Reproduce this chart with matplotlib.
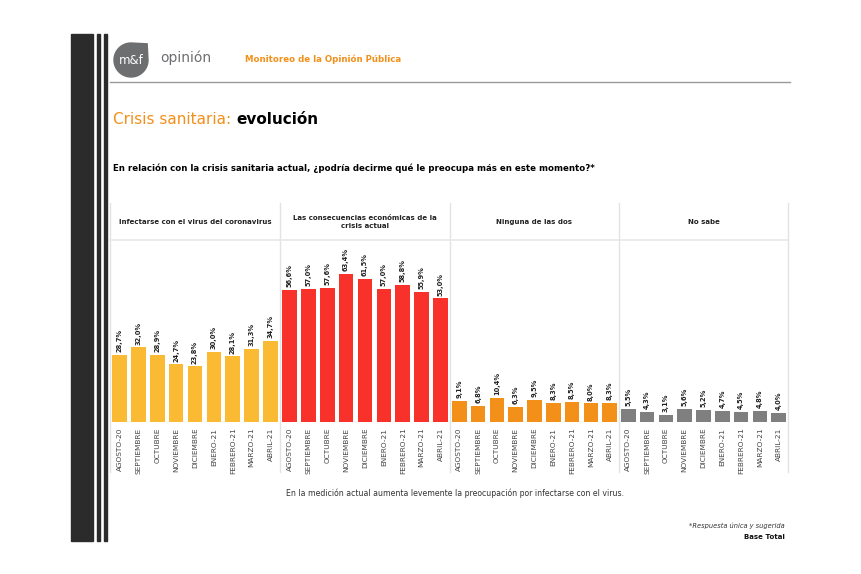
import numpy as np
import matplotlib
matplotlib.use("Agg")
import matplotlib.pyplot as plt
from matplotlib.patches import Rectangle, Polygon

# data
months = ['AGOSTO-20', 'SEPTIEMBRE', 'OCTUBRE', 'NOVIEMBRE', 'DICIEMBRE',
          'ENERO-21', 'FEBRERO-21', 'MARZO-21', 'ABRIL-21']
panel_titles = ['Infectarse con el virus del coronavirus',
                'Las consecuencias económicas de la\ncrisis actual',
                'Ninguna de las dos',
                'No sabe']
infectarse = [28.7, 32.0, 28.9, 24.7, 23.8, 30.0, 28.1, 31.3, 34.7]
economicas = [56.6, 57.0, 57.6, 63.4, 61.5, 57.0, 58.8, 55.9, 53.0]
ninguna = [9.1, 6.8, 10.4, 6.3, 9.5, 8.3, 8.5, 8.0, 8.3]
no_sabe = [5.5, 4.3, 3.1, 5.6, 5.2, 4.7, 4.5, 4.8, 4.0]
series = [infectarse, economicas, ninguna, no_sabe]
colors = ['#FBBA33', '#F8312B', '#F39019', '#7F7F7F']

W, H = 862, 574
fig = plt.figure(figsize=(W / 100, H / 100), dpi=100)
fig.patch.set_facecolor('white')

# background axes in pixel coordinates for the page decoration
bg = fig.add_axes([0, 0, 1, 1], zorder=0)
bg.set_xlim(0, W)
bg.set_ylim(H, 0)
bg.axis('off')

# left black bars
bg.add_patch(Rectangle((71, 34), 22, 507, color='#2b2b2b'))
bg.add_patch(Rectangle((97, 34), 3, 507, color='#2b2b2b'))
bg.add_patch(Rectangle((104, 34), 3, 507, color='#2b2b2b'))

# logo leaf
cx, cy, r = 131, 60, 17
t = np.linspace(np.pi / 2, 2 * np.pi, 60)
pts = [(cx + r * np.cos(a), cy - r * np.sin(a)) for a in t]
pts.append((cx + r * 0.95, cy - r * 0.95))
bg.add_patch(Polygon(pts, closed=True, color='#6d6e70'))
bg.text(cx, cy + 1, 'm&f', color='white', fontsize=8.5, ha='center', va='center')
bg.text(160, 58, 'opinión', color='#6d6e70', fontsize=10, ha='left', va='center')
bg.text(245, 59, 'Monitoreo de la Opinión Pública', color='#F39019',
        fontsize=6.2, fontweight='bold', ha='left', va='center')
bg.plot([110, 790], [82, 82], color='#999999', lw=1)

# titles
t1 = bg.text(113, 120, 'Crisis sanitaria: ', color='#F39019', fontsize=11,
             ha='left', va='center')
fig.canvas.draw()
bb = t1.get_window_extent()
bg.text(113 + bb.width, 120, 'evolución', color='black', fontsize=11,
        fontweight='bold', ha='left', va='center')
bg.text(113, 168, 'En relación con la crisis sanitaria actual, ¿podría decirme qué le '
        'preocupa más en este momento?*', color='black', fontsize=6.2,
        fontweight='bold', ha='left', va='center')

# panel frame
edges = [110, 280, 450, 619, 788]
for x in edges:
    bg.plot([x, x], [203, 472], color='#e3e3e3', lw=1)
bg.plot([110, 788], [240, 240], color='#e8e8e8', lw=1.2)
for i, title in enumerate(panel_titles):
    bg.text((edges[i] + edges[i + 1]) / 2, 222, title, fontsize=5.0,
            fontweight='bold', ha='center', va='center', color='#222222',
            linespacing=1.5)

# footer
bg.text(455, 493, 'En la medición actual aumenta levemente la preocupación por '
        'infectarse con el virus.', fontsize=5.6, ha='center', va='center',
        color='#333333')
bg.text(785, 526, '*Respuesta única y sugerida', fontsize=4.8, style='italic',
        ha='right', va='center', color='#333333')
bg.text(785, 537, 'Base Total', fontsize=5, fontweight='bold', ha='right',
        va='center', color='#111111')

# bar panels
base_y, top_y = 422, 240
x = np.arange(len(months))
for i, vals in enumerate(series):
    left = edges[i] / W
    width = (edges[i + 1] - edges[i]) / W
    ax = fig.add_axes([left, 1 - base_y / H, width, (base_y - top_y) / H], zorder=2)
    ax.patch.set_alpha(0)
    ax.bar(x, vals, width=0.78, color=colors[i])
    ax.set_xlim(-0.5, len(months) - 0.5)
    ax.set_ylim(0, 78)
    for xi, v in zip(x, vals):
        ax.text(xi, v + 1.2, f'{v:.1f}%'.replace('.', ','), rotation=90,
                ha='center', va='bottom', fontsize=4.8, fontweight='bold',
                color='#222222')
    ax.set_xticks(x)
    ax.set_xticklabels(months, rotation=90, fontsize=5.3, color='#444444')
    ax.tick_params(axis='x', length=0, pad=4)
    ax.set_yticks([])
    for s in ax.spines.values():
        s.set_visible(False)

fig.savefig('out.png', dpi=100)
